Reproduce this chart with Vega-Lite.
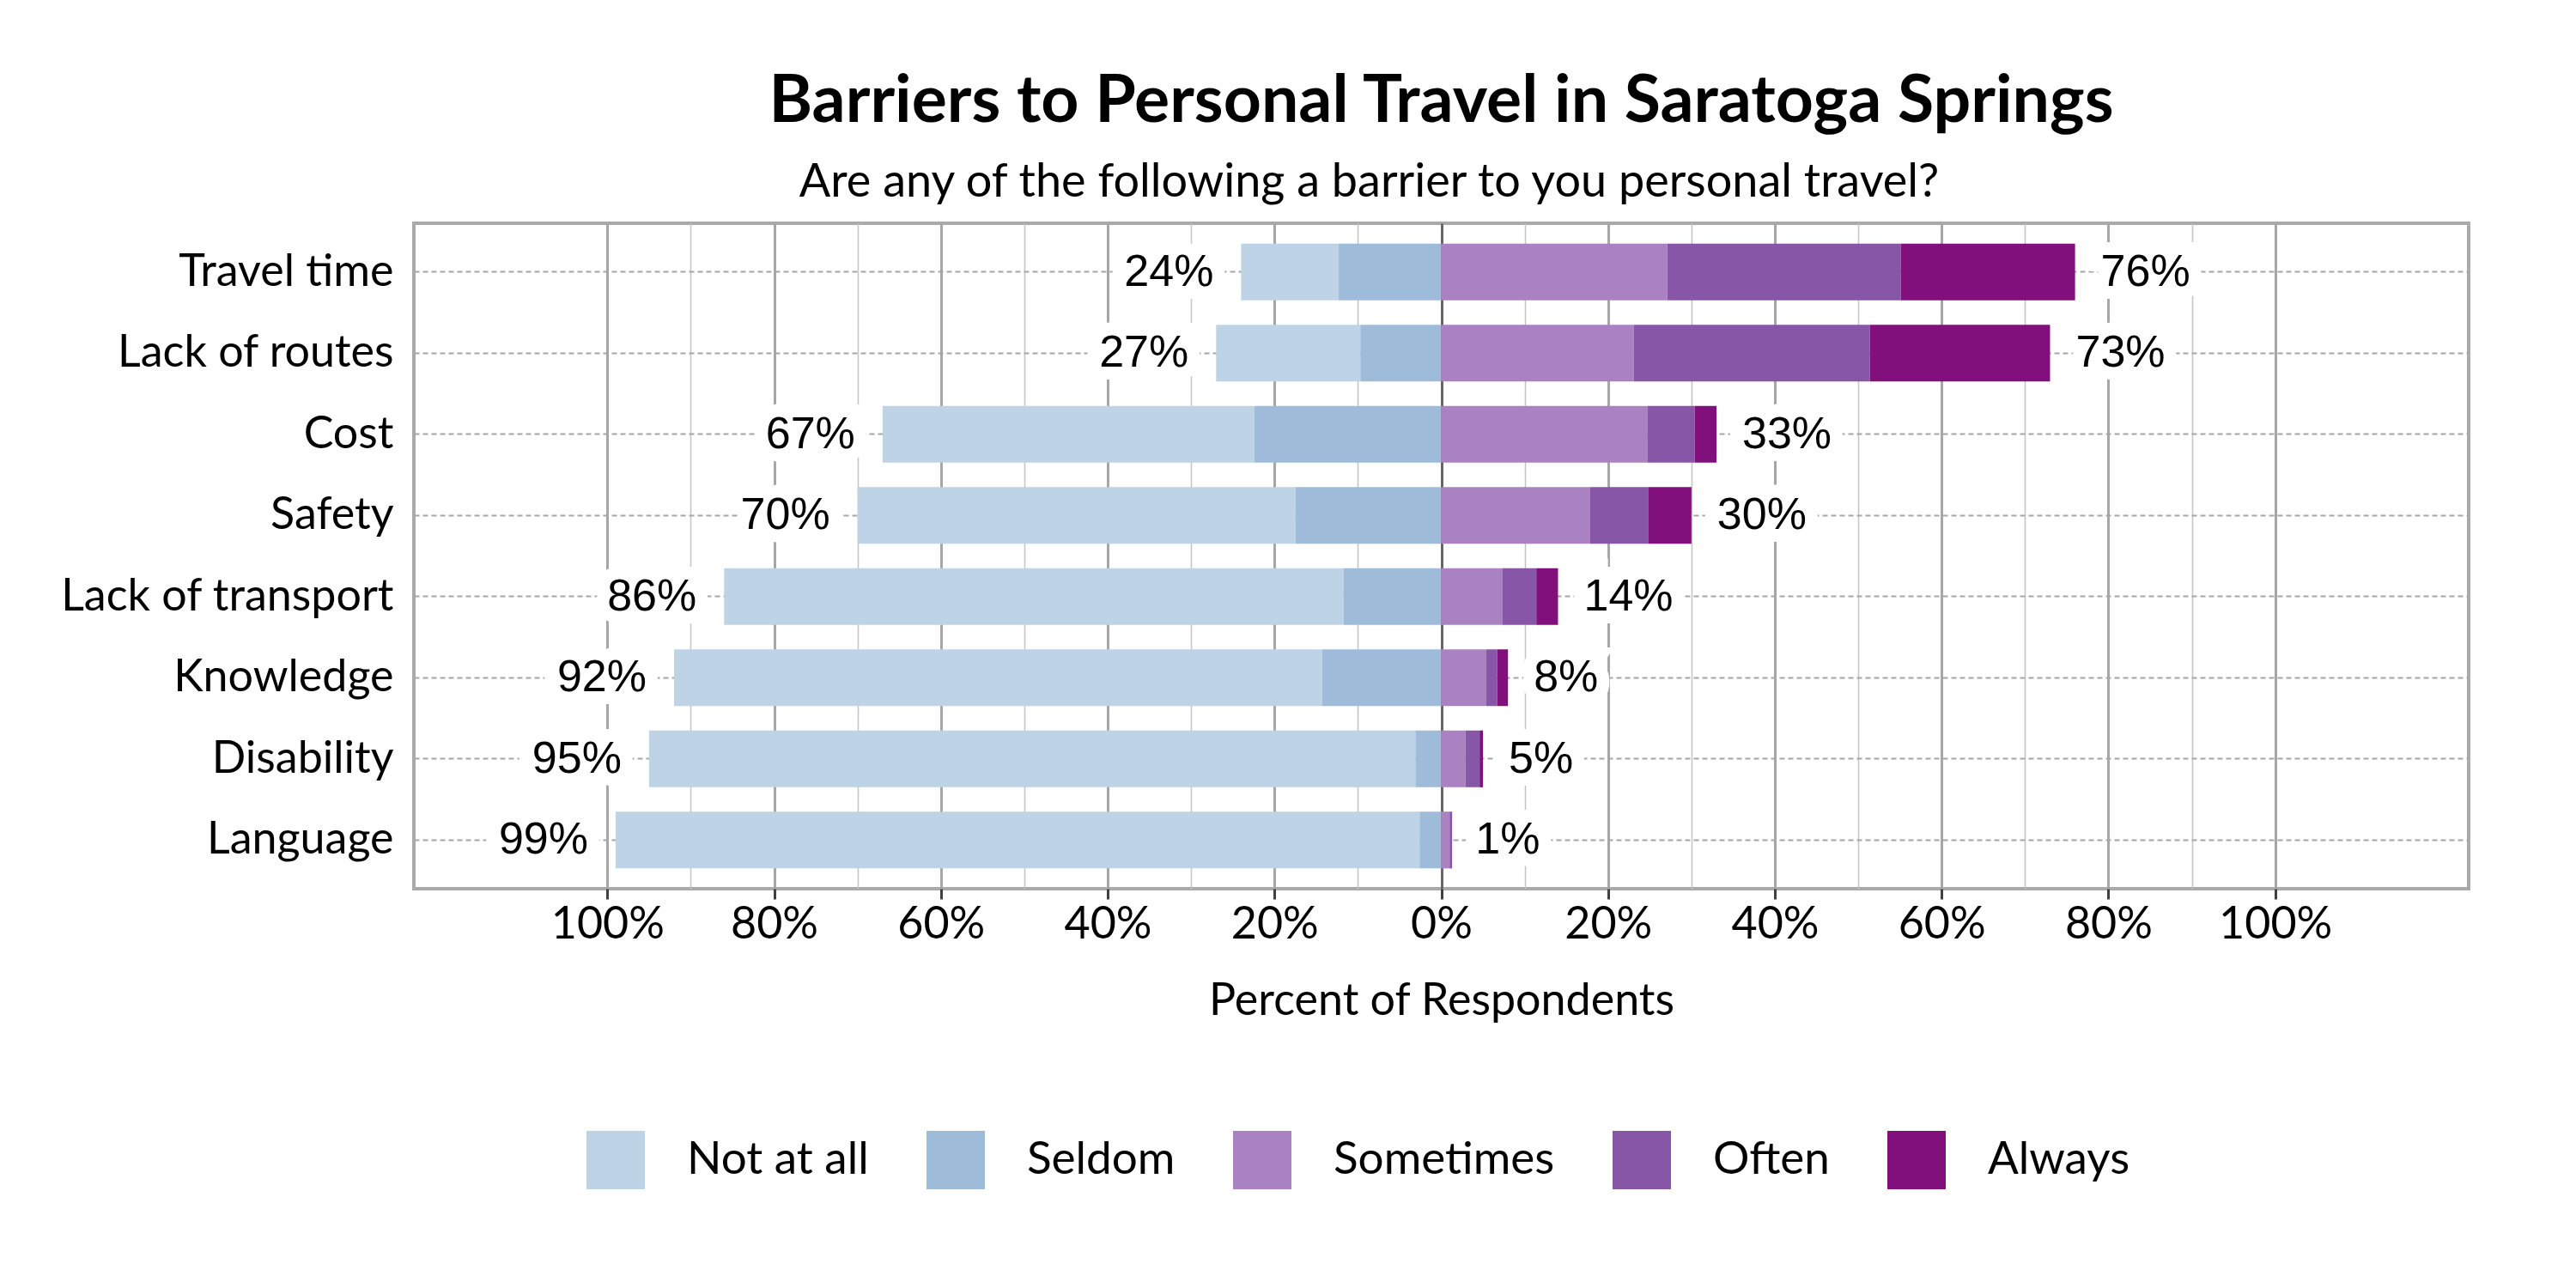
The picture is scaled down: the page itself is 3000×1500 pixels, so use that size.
{
  "$schema": "https://vega.github.io/schema/vega-lite/v6.json",
  "autosize": {"type": "none"},
  "padding": {"left": 482, "top": 260, "right": 125, "bottom": 465},
  "width": 2393,
  "height": 775,
  "background": "white",
  "title": {
    "text": "Barriers to Personal Travel in Saratoga Springs",
    "font": "Lato",
    "fontSize": 77,
    "fontWeight": "bold",
    "color": "black",
    "anchor": "middle",
    "baseline": "alphabetic",
    "offset": -34
  },
  "config": {
    "view": {"stroke": "#aaaaaa", "strokeWidth": 4},
    "font": "Lato"
  },
  "datasets": {
    "responses": [
      {"barrier": "Travel time", "response": "Not at all", "value": -11.7},
      {"barrier": "Travel time", "response": "Seldom", "value": -12.3},
      {"barrier": "Travel time", "response": "Sometimes", "value": 27.1},
      {"barrier": "Travel time", "response": "Often", "value": 28.0},
      {"barrier": "Travel time", "response": "Always", "value": 20.9},
      {"barrier": "Lack of routes", "response": "Not at all", "value": -17.3},
      {"barrier": "Lack of routes", "response": "Seldom", "value": -9.7},
      {"barrier": "Lack of routes", "response": "Sometimes", "value": 23.1},
      {"barrier": "Lack of routes", "response": "Often", "value": 28.3},
      {"barrier": "Lack of routes", "response": "Always", "value": 21.6},
      {"barrier": "Cost", "response": "Not at all", "value": -44.6},
      {"barrier": "Cost", "response": "Seldom", "value": -22.4},
      {"barrier": "Cost", "response": "Sometimes", "value": 24.7},
      {"barrier": "Cost", "response": "Often", "value": 5.7},
      {"barrier": "Cost", "response": "Always", "value": 2.6},
      {"barrier": "Safety", "response": "Not at all", "value": -52.5},
      {"barrier": "Safety", "response": "Seldom", "value": -17.5},
      {"barrier": "Safety", "response": "Sometimes", "value": 17.8},
      {"barrier": "Safety", "response": "Often", "value": 7.0},
      {"barrier": "Safety", "response": "Always", "value": 5.2},
      {"barrier": "Lack of transport", "response": "Not at all", "value": -74.3},
      {"barrier": "Lack of transport", "response": "Seldom", "value": -11.7},
      {"barrier": "Lack of transport", "response": "Sometimes", "value": 7.3},
      {"barrier": "Lack of transport", "response": "Often", "value": 4.1},
      {"barrier": "Lack of transport", "response": "Always", "value": 2.6},
      {"barrier": "Knowledge", "response": "Not at all", "value": -77.7},
      {"barrier": "Knowledge", "response": "Seldom", "value": -14.3},
      {"barrier": "Knowledge", "response": "Sometimes", "value": 5.4},
      {"barrier": "Knowledge", "response": "Often", "value": 1.3},
      {"barrier": "Knowledge", "response": "Always", "value": 1.3},
      {"barrier": "Disability", "response": "Not at all", "value": -91.9},
      {"barrier": "Disability", "response": "Seldom", "value": -3.1},
      {"barrier": "Disability", "response": "Sometimes", "value": 2.9},
      {"barrier": "Disability", "response": "Often", "value": 1.7},
      {"barrier": "Disability", "response": "Always", "value": 0.4},
      {"barrier": "Language", "response": "Not at all", "value": -96.4},
      {"barrier": "Language", "response": "Seldom", "value": -2.6},
      {"barrier": "Language", "response": "Sometimes", "value": 1.0},
      {"barrier": "Language", "response": "Often", "value": 0.3},
      {"barrier": "Language", "response": "Always", "value": 0}
    ],
    "totals": [
      {"barrier": "Travel time", "total": -24, "label": "24%"},
      {"barrier": "Travel time", "total": 76, "label": "76%"},
      {"barrier": "Lack of routes", "total": -27, "label": "27%"},
      {"barrier": "Lack of routes", "total": 73, "label": "73%"},
      {"barrier": "Cost", "total": -67, "label": "67%"},
      {"barrier": "Cost", "total": 33, "label": "33%"},
      {"barrier": "Safety", "total": -70, "label": "70%"},
      {"barrier": "Safety", "total": 30, "label": "30%"},
      {"barrier": "Lack of transport", "total": -86, "label": "86%"},
      {"barrier": "Lack of transport", "total": 14, "label": "14%"},
      {"barrier": "Knowledge", "total": -92, "label": "92%"},
      {"barrier": "Knowledge", "total": 8, "label": "8%"},
      {"barrier": "Disability", "total": -95, "label": "95%"},
      {"barrier": "Disability", "total": 5, "label": "5%"},
      {"barrier": "Language", "total": -99, "label": "99%"},
      {"barrier": "Language", "total": 1, "label": "1%"}
    ]
  },
  "resolve": {"axis": {"x": "independent"}},
  "layer": [
    {
      "data": {"name": "responses"},
      "mark": {"type": "bar"},
      "encoding": {
        "y": {
          "field": "barrier",
          "type": "nominal",
          "scale": {
            "domain": ["Travel time", "Lack of routes", "Cost", "Safety", "Lack of transport", "Knowledge", "Disability", "Language"],
            "paddingInner": 0.3,
            "paddingOuter": 0.25
          },
          "axis": {
            "title": null,
            "ticks": false,
            "domain": false,
            "grid": true,
            "bandPosition": 0.5,
            "gridDash": [6, 4],
            "gridColor": "#a6a6a6",
            "gridWidth": 2,
            "labelFont": "Lato",
            "labelFontSize": 52,
            "labelColor": "black",
            "labelLimit": 0,
            "labelPadding": 24
          }
        },
        "x": {
          "field": "value",
          "type": "quantitative",
          "stack": "zero",
          "scale": {"domain": [-123.2, 123.2], "nice": false, "zero": false},
          "axis": {
            "orient": "bottom",
            "values": [-100, -90, -80, -70, -60, -50, -40, -30, -20, -10, 0, 10, 20, 30, 40, 50, 60, 70, 80, 90, 100],
            "labelExpr": "datum.value % 20 === 0 ? abs(datum.value) + '%' : ''",
            "labelFlush": false,
            "labelOverlap": false,
            "labelFont": "Lato",
            "labelFontSize": 52,
            "labelColor": "black",
            "labelPadding": 4,
            "domain": false,
            "grid": true,
            "gridColor": {
              "condition": [
                {"test": "datum.value === 0", "value": "#666666"},
                {"test": "datum.value % 20 === 0", "value": "#a6a6a6"}
              ],
              "value": "#c4c4c4"
            },
            "gridWidth": {
              "condition": {"test": "datum.value % 20 === 0", "value": 3},
              "value": 1.5
            },
            "tickOpacity": {
              "condition": {"test": "datum.value % 20 !== 0", "value": 0},
              "value": 1
            },
            "tickColor": "#404040",
            "tickWidth": 3,
            "tickSize": 12,
            "title": "Percent of Respondents",
            "titleFont": "Lato",
            "titleFontSize": 52,
            "titleFontWeight": "normal",
            "titleColor": "black",
            "titlePadding": 38
          }
        },
        "color": {
          "field": "response",
          "type": "nominal",
          "scale": {
            "domain": ["Not at all", "Seldom", "Sometimes", "Often", "Always"],
            "range": ["#bfd3e6", "#9ebcda", "#ab82c1", "#8856a7", "#810f7c"]
          },
          "legend": {
            "title": null,
            "orient": "none",
            "direction": "horizontal",
            "legendX": 201,
            "legendY": 1057,
            "symbolType": "square",
            "symbolSize": 4624,
            "symbolStrokeWidth": 0,
            "symbolOpacity": 1,
            "labelFont": "Lato",
            "labelFontSize": 53,
            "labelColor": "black",
            "labelOffset": 49,
            "labelLimit": 0,
            "columnPadding": 67
          }
        },
        "order": {"field": "response", "sort": "descending"}
      }
    },
    {
      "data": {"name": "totals"},
      "mark": {
        "type": "text",
        "font": "Arial, Liberation Sans, sans-serif",
        "fontSize": 52,
        "fill": "white",
        "stroke": "white",
        "strokeWidth": 30,
        "baseline": "middle",
        "align": {"expr": "datum.total < 0 ? 'right' : 'left'"},
        "dx": {"expr": "datum.total < 0 ? -32 : 30"}
      },
      "encoding": {
        "y": {"field": "barrier", "type": "nominal"},
        "x": {
          "field": "total",
          "type": "quantitative",
          "scale": {"domain": [-123.2, 123.2], "nice": false, "zero": false},
          "axis": {
            "orient": "top",
            "labels": false,
            "ticks": false,
            "domain": false,
            "grid": false,
            "title": "Are any of the following a barrier to you personal travel?",
            "titleFont": "Lato",
            "titleFontSize": 54,
            "titleFontWeight": "normal",
            "titleColor": "black",
            "titleX": 1112,
            "titleY": -32,
            "titleAlign": "center",
            "titleBaseline": "alphabetic"
          }
        },
        "text": {"field": "label"}
      }
    },
    {
      "data": {"name": "totals"},
      "mark": {
        "type": "text",
        "font": "Arial, Liberation Sans, sans-serif",
        "fontSize": 52,
        "color": "black",
        "baseline": "middle",
        "align": {"expr": "datum.total < 0 ? 'right' : 'left'"},
        "dx": {"expr": "datum.total < 0 ? -32 : 30"}
      },
      "encoding": {
        "y": {"field": "barrier", "type": "nominal"},
        "x": {
          "field": "total",
          "type": "quantitative",
          "scale": {"domain": [-123.2, 123.2], "nice": false, "zero": false},
          "axis": null
        },
        "text": {"field": "label"}
      }
    }
  ]
}
